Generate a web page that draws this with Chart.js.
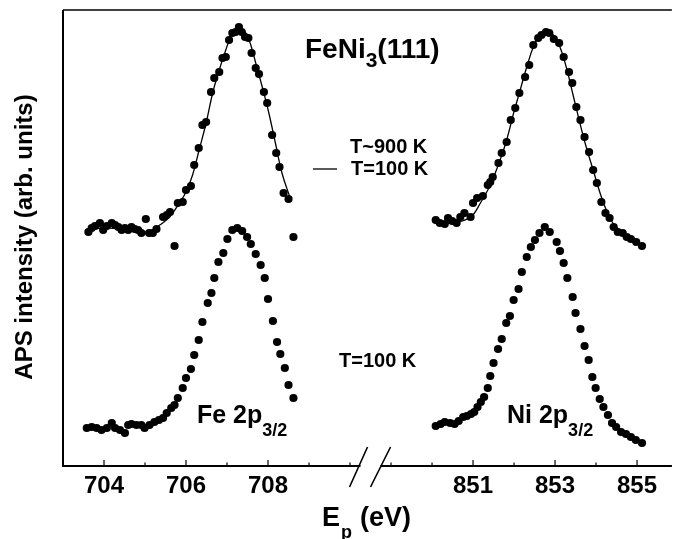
<!DOCTYPE html>
<html><head><meta charset="utf-8">
<script src="https://cdn.jsdelivr.net/npm/chart.js@4.4.0/dist/chart.umd.min.js"></script>
<style>html,body{margin:0;padding:0;background:#fff;}canvas{display:block;}</style>
</head><body>
<canvas id="c" width="676" height="539"></canvas>
<script>
// ---- data (E in eV, intensity in arb. units) ----
const feHotE = [703.62,703.70,703.78,703.90,703.98,704.07,704.19,704.27,704.35,704.43,704.51,704.59,704.67,704.75,704.83,704.91,705.02,705.10,705.19,705.28,705.44,705.53,705.61,705.72,705.80,705.92,706.00,706.12,706.20,706.31,706.40,706.49,706.61,706.69,706.81,706.89,706.97,707.05,707.13,707.21,707.29,707.36,707.44,707.52,707.60,707.70,707.78,707.90,707.98,708.10,708.20,708.28,708.38,708.50,708.62];
const feHotI = [233,237,239,242,235,239,242,240,238,235,237,235,238,236,235,232,246,232,232,236,248,250,253,219,262,263,275,279,300,317,340,343,373,387,393,407,408,425,432,433,438,433,428,427,412,397,391,373,362,330,312,298,272,266,228];
const feLineE = [703.62,703.98,704.39,704.79,705.11,705.36,705.60,705.84,706.00,706.16,706.32,706.49,706.65,706.81,706.97,707.09,707.21,707.33,707.46,707.58,707.70,707.86,708.02,708.18,708.34,708.54];
const feLineI = [235,237,236,234,233,240,248,262,273,290,315,342,372,395,415,428,436,437,432,420,402,378,352,322,292,267];
const feColdE = [703.58,703.70,703.82,703.94,704.07,704.19,704.27,704.39,704.51,704.59,704.67,704.79,704.91,704.99,705.11,705.23,705.34,705.44,705.53,705.64,705.72,705.80,705.92,706.00,706.12,706.20,706.31,706.40,706.53,706.62,706.69,706.79,706.91,707.01,707.13,707.25,707.37,707.49,707.58,707.70,707.82,707.92,708.00,708.12,708.22,708.30,708.41,708.50,708.62];
const feColdI = [37,38,37,35,37,42,37,35,32,40,41,40,40,37,40,43,45,47,52,57,60,67,77,87,96,110,125,143,162,172,187,203,212,226,235,237,234,228,221,211,200,187,166,144,123,111,97,80,67];
const niHotE = [850.09,850.19,850.31,850.39,850.49,850.60,850.69,850.79,850.94,851.00,851.10,851.24,851.36,851.42,851.48,851.62,851.70,851.82,851.92,852.03,852.13,852.27,852.37,852.47,852.59,852.67,852.78,852.86,852.97,853.10,853.21,853.34,853.42,853.52,853.62,853.72,853.83,853.93,854.02,854.13,854.23,854.33,854.43,854.53,854.65,854.75,854.85,854.98,855.12];
const niHotI = [245,242,241,247,244,242,248,252,248,262,267,269,280,283,288,302,312,323,345,357,372,388,400,420,427,430,433,432,426,422,408,393,382,358,345,328,313,295,282,263,252,247,238,233,232,228,226,223,219];
const niLineE = [850.13,850.53,850.94,851.18,851.42,851.66,851.82,851.99,852.15,852.31,852.47,852.63,852.79,852.96,853.12,853.28,853.44,853.60,853.76,853.93,854.09,854.25,854.41,854.57];
const niLineI = [242,242,248,262,280,305,325,352,375,398,418,430,433,430,418,397,370,343,318,295,273,255,242,235];
const niColdE = [850.09,850.21,850.31,850.44,850.55,850.65,850.76,850.85,850.95,851.03,851.11,851.19,851.27,851.36,851.42,851.50,851.61,851.70,851.81,851.90,851.99,852.11,852.19,852.31,852.41,852.51,852.62,852.75,852.87,853.04,853.12,853.21,853.30,853.43,853.50,853.62,853.72,853.82,853.91,853.99,854.09,854.18,854.29,854.39,854.49,854.61,854.73,854.85,854.97,855.12];
const niColdI = [39,41,43,42,41,44,48,49,51,53,58,63,68,77,89,102,116,126,142,149,165,176,193,208,218,225,232,238,233,223,214,202,187,168,152,136,119,105,88,77,66,58,50,42,38,33,31,28,25,22];
const tickE = [704,705,706,707,708,709,710,849,850,851,852,853,854,855];
const tickLabels = ['704','706','708','851','853','855'];

// broken axis: the Ni window is shifted onto the same continuous linear scale
const NI_SHIFT = 138;
const BREAK_AT = 710.5;
const toAxis = e => e > 780 ? e - NI_SHIFT : e;
const fromAxis = v => v > BREAK_AT ? Math.round(v + NI_SHIFT) : Math.round(v);
const pts = (E, I) => E.map((e, i) => ({x: toAxis(e), y: I[i]}));

const FONT = '"Liberation Sans", Arial, Helvetica, sans-serif';

function dots(E, I) {
  return {data: pts(E, I), showLine: false, pointRadius: 4.1, pointBackgroundColor: '#000', pointBorderWidth: 0, borderColor: '#000'};
}
function line(E, I) {
  return {data: pts(E, I), showLine: true, pointRadius: 0, borderColor: '#000', borderWidth: 1.3, tension: 0.4, fill: false};
}

function txt(ctx, s, x, y, size) {
  ctx.font = 'bold ' + size + 'px ' + FONT;
  ctx.fillText(s, x, y);
  return x + ctx.measureText(s).width;
}

const decor = {
  id: 'decor',
  afterDraw(chart) {
    const ctx = chart.ctx, a = chart.chartArea, xs = chart.scales.x;
    ctx.save();
    ctx.strokeStyle = '#000';
    ctx.fillStyle = '#000';
    // frame
    ctx.lineWidth = 2;
    ctx.beginPath();
    ctx.moveTo(a.left, a.top); ctx.lineTo(a.left, a.bottom); ctx.lineTo(a.right, a.bottom);
    ctx.stroke();
    ctx.lineWidth = 1.5;
    ctx.beginPath(); ctx.moveTo(a.left, a.top); ctx.lineTo(a.right, a.top); ctx.stroke();
    // inward ticks
    ctx.lineWidth = 1.2;
    xs.ticks.forEach(t => {
      const px = xs.getPixelForValue(t.value);
      const major = tickLabels.includes(String(fromAxis(t.value)));
      ctx.beginPath(); ctx.moveTo(px, a.bottom); ctx.lineTo(px, a.bottom - (major ? 6 : 3.5)); ctx.stroke();
    });
    // axis break
    const bx = xs.getPixelForValue(BREAK_AT);
    ctx.fillStyle = '#fff';
    ctx.fillRect(bx - 10, a.bottom - 3, 20, 6);
    ctx.fillStyle = '#000';
    ctx.lineWidth = 1.6;
    ctx.beginPath();
    ctx.moveTo(bx - 3, a.bottom - 19); ctx.lineTo(bx - 21, a.bottom + 21);
    ctx.moveTo(bx + 20, a.bottom - 19); ctx.lineTo(bx + 0, a.bottom + 21);
    ctx.stroke();
    // texts
    ctx.textBaseline = 'alphabetic';
    ctx.textAlign = 'left';
    let x = txt(ctx, 'FeNi', 305, 58, 28);
    x = txt(ctx, '3', x, 67, 21);
    txt(ctx, '(111)', x, 58, 28);
    txt(ctx, 'T~900 K', 350, 153, 20);
    txt(ctx, 'T=100 K', 351, 175, 20);
    ctx.lineWidth = 1.3;
    ctx.beginPath(); ctx.moveTo(313, 169); ctx.lineTo(337, 169); ctx.stroke();
    txt(ctx, 'T=100 K', 339, 367, 20);
    x = txt(ctx, 'Fe 2p', 197, 423, 25);
    txt(ctx, '3/2', x, 436, 18);
    x = txt(ctx, 'Ni 2p', 507, 423, 25);
    txt(ctx, '3/2', x, 436, 18);
    // x title
    x = txt(ctx, 'E', 322, 526, 27);
    x = txt(ctx, 'p', x + 1, 538, 18);
    txt(ctx, '(eV)', x + 8, 526, 27);
    // y title
    ctx.translate(32, 237);
    ctx.rotate(-Math.PI / 2);
    ctx.textAlign = 'center';
    txt(ctx, 'APS intensity (arb. units)', 0, 0, 24);
    ctx.restore();
  }
};

new Chart(document.getElementById('c'), {
  type: 'scatter',
  data: {datasets: [
    dots(feHotE, feHotI), line(feLineE, feLineI), dots(feColdE, feColdI),
    dots(niHotE, niHotI), line(niLineE, niLineI), dots(niColdE, niColdI)
  ]},
  options: {
    responsive: false, animation: false, devicePixelRatio: 1,
    layout: {padding: {left: 63, right: 0, top: 10, bottom: 0}},
    plugins: {legend: {display: false}, tooltip: {enabled: false}},
    scales: {
      x: {
        type: 'linear', min: 703.0, max: 717.85,
        afterBuildTicks: s => { s.ticks = tickE.map(e => ({value: toAxis(e)})); },
        afterFit: s => { s.height = 73; },
        grid: {display: false, drawTicks: false},
        border: {display: false},
        ticks: {
          autoSkip: false, maxRotation: 0, padding: 6, color: '#000',
          font: {family: FONT, size: 24, weight: 'bold'},
          callback: v => { const e = String(fromAxis(v)); return tickLabels.includes(e) ? e : ''; }
        }
      },
      y: {type: 'linear', min: -1, max: 455, display: false}
    }
  },
  plugins: [decor]
});
</script>
</body></html>
